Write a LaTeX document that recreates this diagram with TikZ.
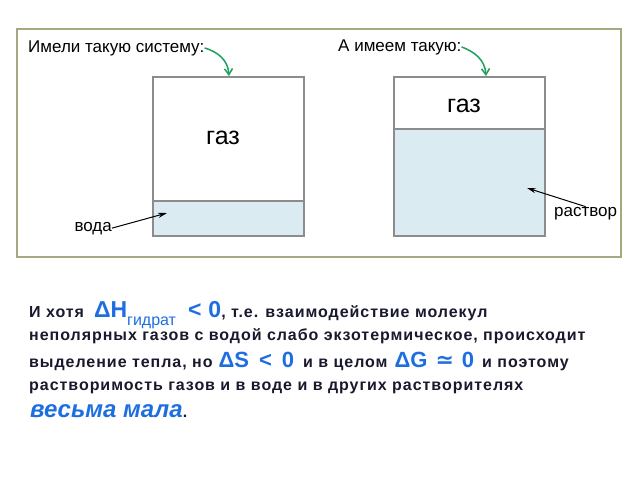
\documentclass[tikz,border=0pt]{standalone}
\usepackage{fontspec}
\setmainfont{Liberation Sans}
\newfontfamily\symfont{DejaVu Sans}
\usetikzlibrary{arrows.meta}

\definecolor{frameolive}{RGB}{168,168,128}
\definecolor{boxgray}{RGB}{140,140,140}
\definecolor{waterblue}{RGB}{219,235,242}
\definecolor{arrowgreen}{RGB}{30,160,95}
\definecolor{textblue}{RGB}{30,110,225}
\definecolor{textdark}{RGB}{25,25,45}

\newcommand{\bigblue}[1]{{\normalfont\bfseries\color{textblue}\fontsize{23}{26}\selectfont #1}}
\newcommand{\midblue}[1]{{\normalfont\bfseries\color{textblue}\fontsize{22}{26}\selectfont #1}}
\newcommand{\subblue}[1]{\raisebox{-8pt}{\normalfont\color{textblue}\fontsize{16}{18}\selectfont #1}}

\begin{document}
\begin{tikzpicture}[x=1pt, y=-1pt]

    \tikzstyle{caption} = [font=\fontsize{17}{20}\selectfont, inner sep=0, anchor=base west];
    \tikzstyle{gas} = [font=\fontsize{25}{28}\selectfont, inner sep=0, anchor=base];
    \tikzstyle{textline} = [font=\fontsize{16}{18}\selectfont\bfseries\addfontfeature{LetterSpace=6}, text=textdark, inner sep=0, anchor=base west];
    \tikzstyle{vessel} = [draw=boxgray, line width=1.2pt];
    \tikzstyle{greenarrow} = [draw=arrowgreen, line width=1.5pt, -{Straight Barb[length=6pt, width=8pt]}];
    \tikzstyle{blackarrow} = [draw=black, line width=1pt, -{Stealth[length=9pt, width=5pt]}];

    \useasboundingbox (0,0) rectangle (640,480);
    \fill[white] (0,0) rectangle (640,480);

    % frame
    \draw[frameolive, line width=1.5pt] (17,29) rectangle (621,257);

    % left vessel
    \fill[waterblue] (153,201) rectangle (304,236);
    \draw[vessel] (153,77) rectangle (304,236);
    \draw[vessel] (153,201) -- (304,201);

    % right vessel
    \fill[waterblue] (394,129) rectangle (545,236);
    \draw[vessel] (394,77) rectangle (545,236);
    \draw[vessel] (394,129) -- (545,129);

    \node[caption] (title1) at (28,52) {Имели такую систему:};
    \node[caption] (title2) at (338,51) {А имеем такую:};
    \node[gas] (gas1) at (223,144) {газ};
    \node[gas] (gas2) at (464,112) {газ};
    \node[caption, anchor=base east] (water) at (112,231) {вода};
    \node[caption] (solution) at (554,216) {раствор};

    \coordinate (tip1) at (229,76);
    \coordinate (tip2) at (486,76);
    \coordinate (tipwater) at (167,213);
    \coordinate (tipsol) at (527,188);

    \draw[greenarrow] (title1.east) .. controls (218,52) and (228,60) .. (tip1);
    \draw[greenarrow] (title2.east) .. controls (475,52) and (485,60) .. (tip2);
    \draw[blackarrow] (water.east) -- (tipwater);
    \draw[blackarrow] (solution.north) -- (tipsol);

    % text below
    \node[textline] (line1) at (29,317) {И хотя\hspace{10pt}\bigblue{ΔH}\subblue{гидрат}\hspace{12pt}\bigblue{<\hspace{7pt}0}, т.е. взаимодействие молекул};
    \node[textline] (line2) at (29,340) {неполярных газов с водой слабо экзотермическое, происходит};
    \node[textline] (line3) at (29,367) {выделение тепла, но\hspace{6pt}\midblue{ΔS\hspace{10pt}<\hspace{10pt}0}\hspace{9pt}и в целом\hspace{7pt}\midblue{ΔG\hspace{8pt}{\symfont ≃}\hspace{8pt}0}\hspace{8pt}и поэтому};
    \node[textline] (line4) at (29,390) {растворимость газов и в воде и в других растворителях};
    \node[textline] (line5) at (30,417) {{\normalfont\bfseries\color{textblue}\fontsize{24}{28}\selectfont\itshape весьма мала}.};

\end{tikzpicture}
\end{document}
